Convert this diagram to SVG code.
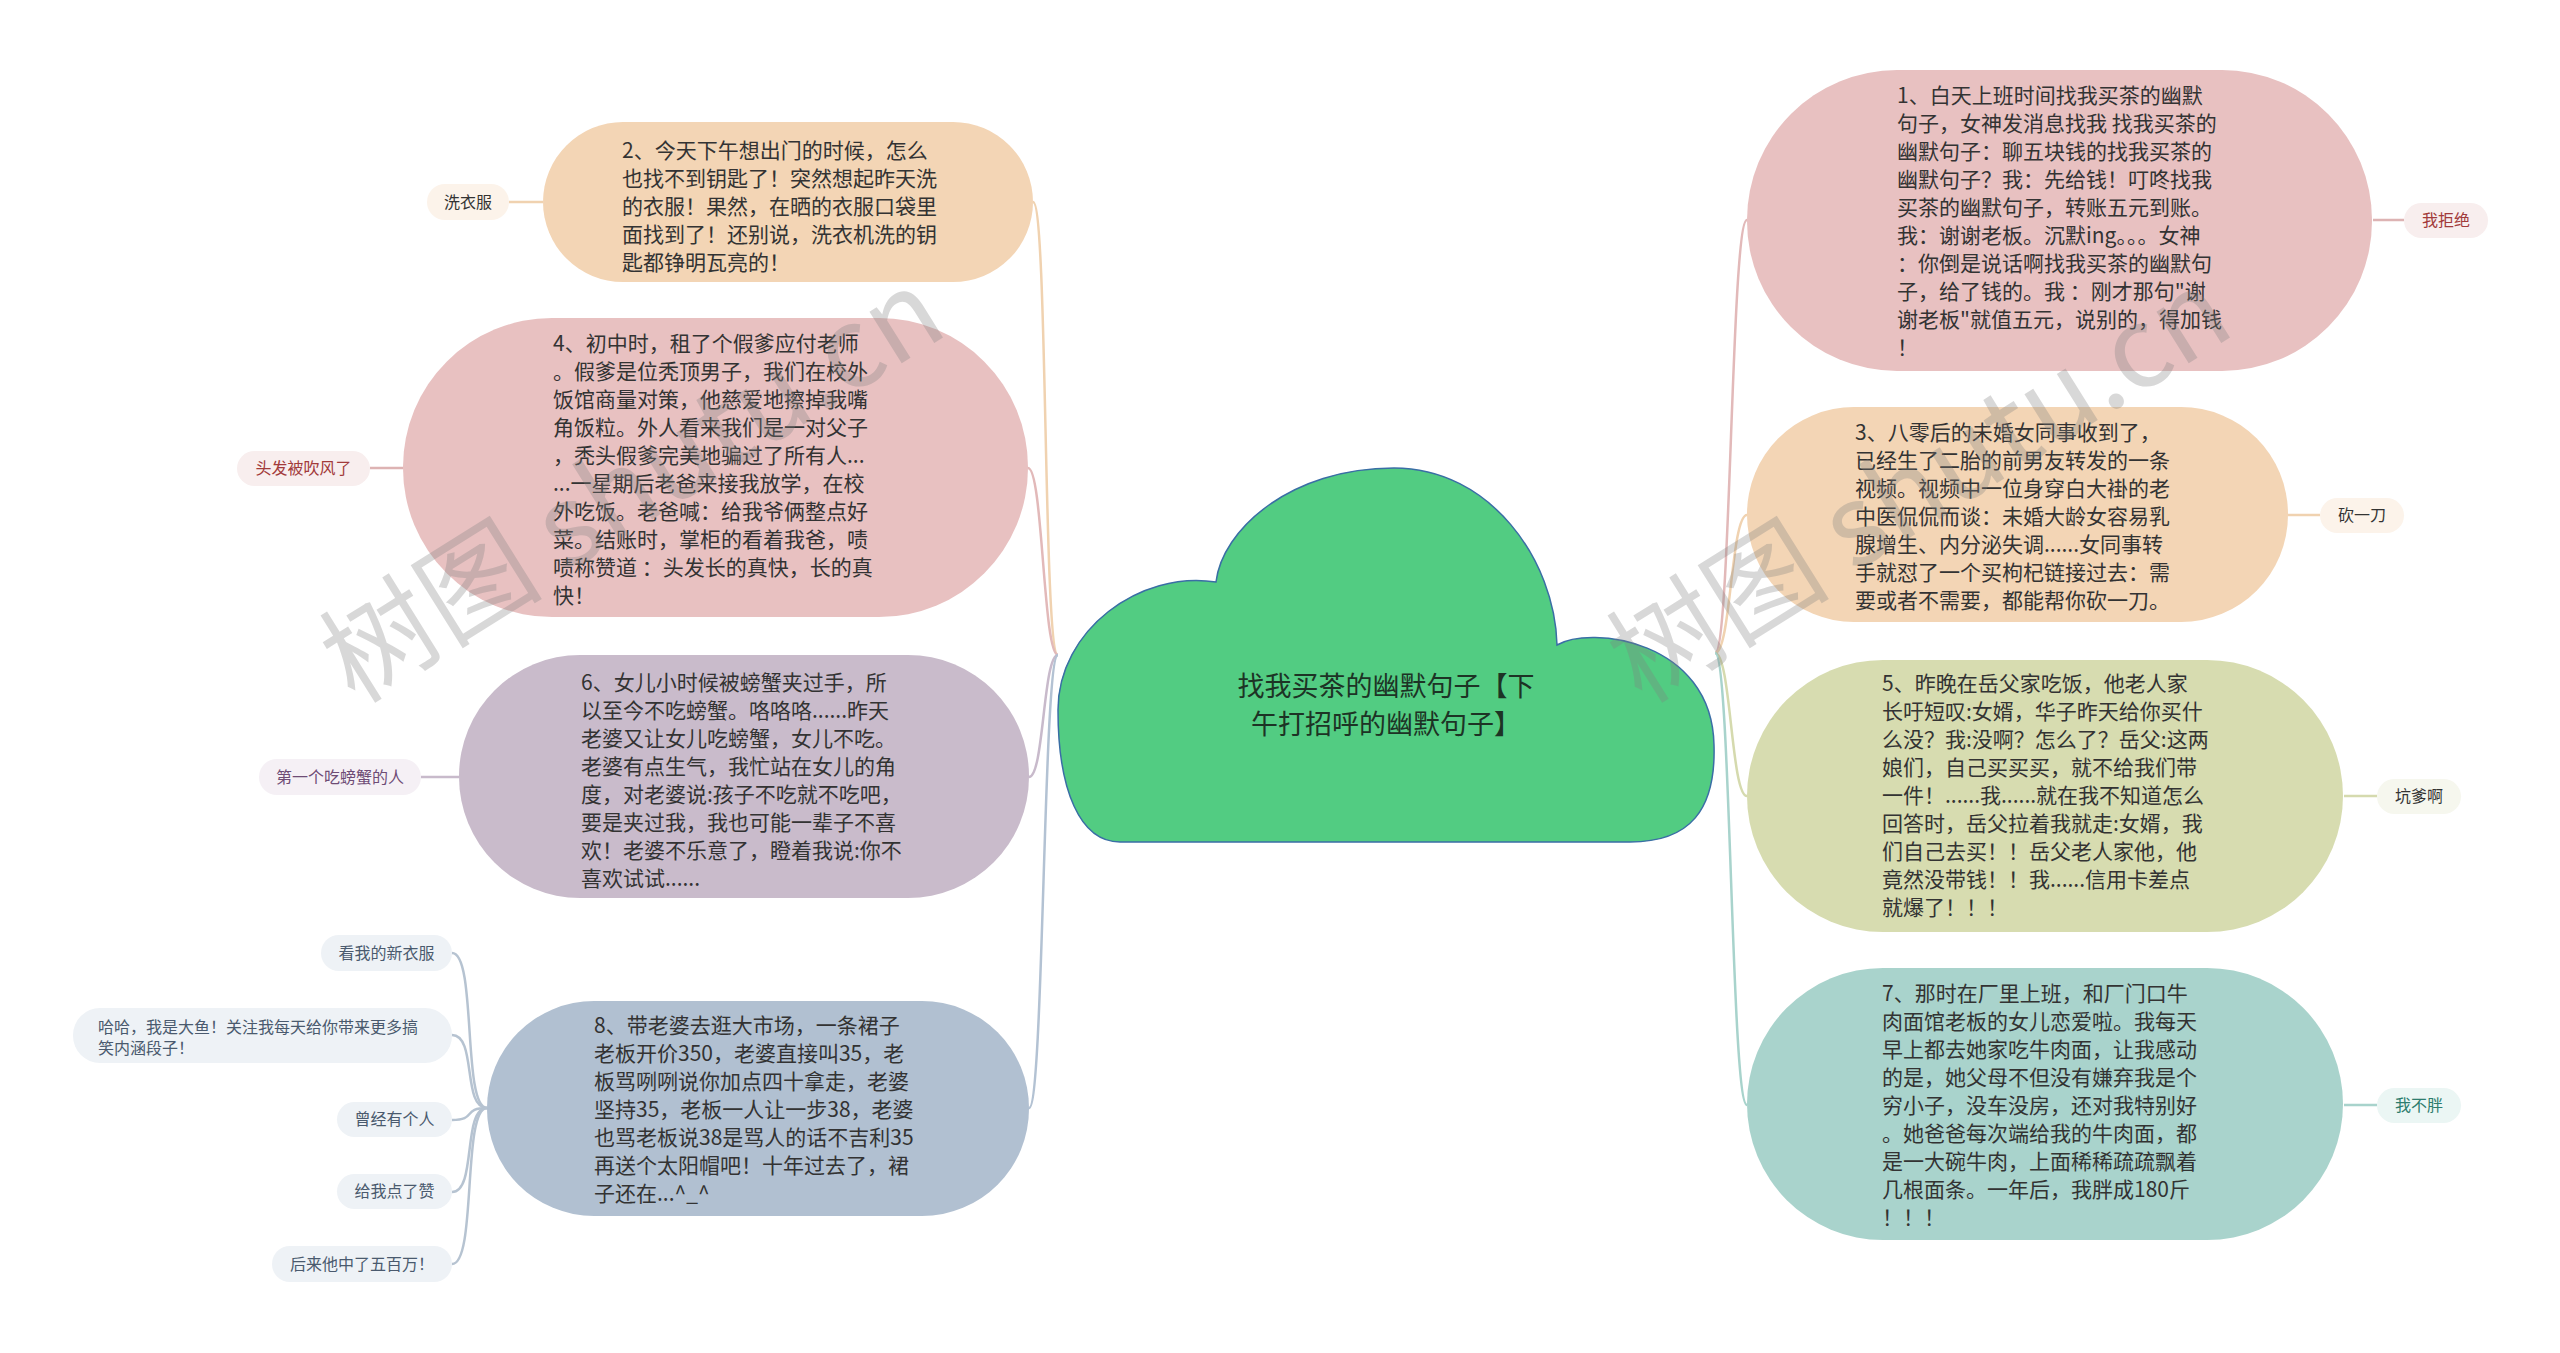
<svg xmlns="http://www.w3.org/2000/svg" width="2560" height="1353" viewBox="0 0 2560 1353">
<style>
text{font-family:"Noto Sans CJK SC","Noto Sans",sans-serif;}
.t{font-size:21px;fill:#333333;}
.lb{font-size:16px;text-anchor:middle;}
.lbs{font-size:16px;text-anchor:start;}
.c{fill:none;stroke-width:2.5;}
.wm{font-size:112px;fill:#808080;opacity:0.3;}
</style>
<rect width="2560" height="1353" fill="#ffffff"/>
<g id="connectors">
<path class="c" stroke="#F0D2B0" d="M1058,655 C1043,655 1048,202 1033,202"/>
<path class="c" stroke="#E2B9B9" d="M1058,655 C1043,655 1043,468 1028,468"/>
<path class="c" stroke="#C8BACB" d="M1058,655 C1043,655 1044,777 1029,777"/>
<path class="c" stroke="#B3C2D3" d="M1058,655 C1043,655 1044,1108 1029,1108"/>
<path class="c" stroke="#E2B9B9" d="M1715,653 C1731,653 1731,220 1747,220"/>
<path class="c" stroke="#F0D2B0" d="M1715,653 C1731,653 1731,515 1747,515"/>
<path class="c" stroke="#D5DAAE" d="M1715,653 C1731,653 1731,796 1747,796"/>
<path class="c" stroke="#A8D3CC" d="M1715,653 C1731,653 1731,1105 1747,1105"/>
<path class="c" stroke="#F0D2B0" d="M509,202 L543,202"/>
<path class="c" stroke="#DDB3B3" d="M370,468 L403,468"/>
<path class="c" stroke="#C8BACB" d="M421,777 L459,777"/>
<path class="c" stroke="#DDB3B3" d="M2373,220 L2404,220"/>
<path class="c" stroke="#F0D2B0" d="M2288,515 L2320,515"/>
<path class="c" stroke="#D5DAAE" d="M2344,796 L2377,796"/>
<path class="c" stroke="#A8D3CC" d="M2344,1105 L2377,1105"/>
<path class="c" stroke="#B6C3D1" stroke-width="2" d="M487,1108 C462,1108 477,953 452,953"/>
<path class="c" stroke="#B6C3D1" stroke-width="2" d="M487,1108 C462,1108 477,1035 452,1035"/>
<path class="c" stroke="#B6C3D1" stroke-width="2" d="M487,1108 C462,1108 477,1120 452,1120"/>
<path class="c" stroke="#B6C3D1" stroke-width="2" d="M487,1108 C462,1108 477,1192 452,1192"/>
<path class="c" stroke="#B6C3D1" stroke-width="2" d="M487,1108 C462,1108 477,1264 452,1264"/>
</g>
<g id="root">
<path d="M1216,582 C1222,530 1290,468 1394,468 C1490,468 1555,560 1557,645 C1590,625 1712,640 1714,745 C1716,810 1690,842 1630,842 L1120,842 C1080,842 1058,790 1058,710 C1058,630 1140,570 1216,582 Z" fill="#52CC82" stroke="#3A6EA5" stroke-width="1.5"/>
<text x="1386" y="696" font-size="27" fill="#1D3325" text-anchor="middle">找我买茶的幽默句子【下</text>
<text x="1386" y="734" font-size="27" fill="#1D3325" text-anchor="middle">午打招呼的幽默句子】</text>
</g>
<g id="n2">
<rect x="543" y="122" width="490" height="160" rx="80" fill="#F3D5B5"/>
<text class="t" x="622" y="158">2、今天下午想出门的时候，怎么</text>
<text class="t" x="622" y="186">也找不到钥匙了！突然想起昨天洗</text>
<text class="t" x="622" y="214">的衣服！果然，在晒的衣服口袋里</text>
<text class="t" x="622" y="242">面找到了！还别说，洗衣机洗的钥</text>
<text class="t" x="622" y="270">匙都铮明瓦亮的！</text>
</g>
<g id="n4">
<rect x="403" y="318" width="625" height="299" rx="149" fill="#E8C1C1"/>
<text class="t" x="553" y="351">4、初中时，租了个假爹应付老师</text>
<text class="t" x="553" y="379">。假爹是位秃顶男子，我们在校外</text>
<text class="t" x="553" y="407">饭馆商量对策，他慈爱地擦掉我嘴</text>
<text class="t" x="553" y="435">角饭粒。外人看来我们是一对父子</text>
<text class="t" x="553" y="463">，秃头假爹完美地骗过了所有人...</text>
<text class="t" x="553" y="491">...一星期后老爸来接我放学，在校</text>
<text class="t" x="553" y="519">外吃饭。老爸喊：给我爷俩整点好</text>
<text class="t" x="553" y="547">菜。结账时，掌柜的看着我爸，啧</text>
<text class="t" x="553" y="575">啧称赞道 ：头发长的真快，长的真</text>
<text class="t" x="553" y="603">快！</text>
</g>
<g id="n6">
<rect x="459" y="655" width="570" height="243" rx="121" fill="#C9BBCB"/>
<text class="t" x="581" y="690">6、女儿小时候被螃蟹夹过手，所</text>
<text class="t" x="581" y="718">以至今不吃螃蟹。咯咯咯......昨天</text>
<text class="t" x="581" y="746">老婆又让女儿吃螃蟹，女儿不吃。</text>
<text class="t" x="581" y="774">老婆有点生气，我忙站在女儿的角</text>
<text class="t" x="581" y="802">度，对老婆说:孩子不吃就不吃吧，</text>
<text class="t" x="581" y="830">要是夹过我，我也可能一辈子不喜</text>
<text class="t" x="581" y="858">欢！老婆不乐意了，瞪着我说:你不</text>
<text class="t" x="581" y="886">喜欢试试......</text>
</g>
<g id="n8">
<rect x="487" y="1001" width="542" height="215" rx="107" fill="#B1C0D1"/>
<text class="t" x="594" y="1033">8、带老婆去逛大市场，一条裙子</text>
<text class="t" x="594" y="1061">老板开价350，老婆直接叫35，老</text>
<text class="t" x="594" y="1089">板骂咧咧说你加点四十拿走，老婆</text>
<text class="t" x="594" y="1117">坚持35，老板一人让一步38，老婆</text>
<text class="t" x="594" y="1145">也骂老板说38是骂人的话不吉利35</text>
<text class="t" x="594" y="1173">再送个太阳帽吧！十年过去了，裙</text>
<text class="t" x="594" y="1201">子还在...^_^</text>
</g>
<g id="n1">
<rect x="1747" y="70" width="625" height="301" rx="150" fill="#E8C1C1"/>
<text class="t" x="1897" y="103">1、白天上班时间找我买茶的幽默</text>
<text class="t" x="1897" y="131">句子，女神发消息找我 找我买茶的</text>
<text class="t" x="1897" y="159">幽默句子：聊五块钱的找我买茶的</text>
<text class="t" x="1897" y="187">幽默句子？我：先给钱！叮咚找我</text>
<text class="t" x="1897" y="215">买茶的幽默句子，转账五元到账。</text>
<text class="t" x="1897" y="243">我：谢谢老板。沉默ing。。。女神</text>
<text class="t" x="1897" y="271">：你倒是说话啊找我买茶的幽默句</text>
<text class="t" x="1897" y="299">子，给了钱的。我 ：刚才那句"谢</text>
<text class="t" x="1897" y="327">谢老板"就值五元，说别的，得加钱</text>
<text class="t" x="1897" y="355">！</text>
</g>
<g id="n3">
<rect x="1747" y="407" width="541" height="215" rx="107" fill="#F3D5B5"/>
<text class="t" x="1855" y="440">3、八零后的未婚女同事收到了，</text>
<text class="t" x="1855" y="468">已经生了二胎的前男友转发的一条</text>
<text class="t" x="1855" y="496">视频。视频中一位身穿白大褂的老</text>
<text class="t" x="1855" y="524">中医侃侃而谈：未婚大龄女容易乳</text>
<text class="t" x="1855" y="552">腺增生、内分泌失调......女同事转</text>
<text class="t" x="1855" y="580">手就怼了一个买枸杞链接过去：需</text>
<text class="t" x="1855" y="608">要或者不需要，都能帮你砍一刀。</text>
</g>
<g id="n5">
<rect x="1747" y="660" width="596" height="272" rx="136" fill="#D7DCB0"/>
<text class="t" x="1882" y="691">5、昨晚在岳父家吃饭，他老人家</text>
<text class="t" x="1882" y="719">长吁短叹:女婿，华子昨天给你买什</text>
<text class="t" x="1882" y="747">么没？我:没啊？怎么了？岳父:这两</text>
<text class="t" x="1882" y="775">娘们，自己买买买，就不给我们带</text>
<text class="t" x="1882" y="803">一件！......我......就在我不知道怎么</text>
<text class="t" x="1882" y="831">回答时，岳父拉着我就走:女婿，我</text>
<text class="t" x="1882" y="859">们自己去买！！岳父老人家他，他</text>
<text class="t" x="1882" y="887">竟然没带钱！！我......信用卡差点</text>
<text class="t" x="1882" y="915">就爆了！！！</text>
</g>
<g id="n7">
<rect x="1747" y="968" width="596" height="272" rx="136" fill="#A9D3CC"/>
<text class="t" x="1882" y="1001">7、那时在厂里上班，和厂门口牛</text>
<text class="t" x="1882" y="1029">肉面馆老板的女儿恋爱啦。我每天</text>
<text class="t" x="1882" y="1057">早上都去她家吃牛肉面，让我感动</text>
<text class="t" x="1882" y="1085">的是，她父母不但没有嫌弃我是个</text>
<text class="t" x="1882" y="1113">穷小子，没车没房，还对我特别好</text>
<text class="t" x="1882" y="1141">。她爸爸每次端给我的牛肉面，都</text>
<text class="t" x="1882" y="1169">是一大碗牛肉，上面稀稀疏疏飘着</text>
<text class="t" x="1882" y="1197">几根面条。一年后，我胖成180斤</text>
<text class="t" x="1882" y="1225">！！！</text>
</g>
<g id="l-xiyifu">
<rect x="427" y="184" width="82" height="36" rx="18" fill="#FCF3EA"/>
<text class="lb" x="468" y="208" fill="#333333">洗衣服</text>
</g>
<g id="l-toufa">
<rect x="237" y="451" width="133" height="35" rx="17.5" fill="#F8EEEE"/>
<text class="lb" x="303.5" y="474" fill="#A23B3B">头发被吹风了</text>
</g>
<g id="l-pangxie">
<rect x="259" y="759" width="162" height="36" rx="18" fill="#F5F0F5"/>
<text class="lb" x="340" y="783" fill="#6E4C75">第一个吃螃蟹的人</text>
</g>
<g id="l-xinyifu">
<rect x="321" y="935" width="131" height="36" rx="18" fill="#EEF2F6"/>
<text class="lb" x="386.5" y="959" fill="#4A5A6E">看我的新衣服</text>
</g>
<g id="l-haha">
<rect x="73" y="1008" width="379" height="55" rx="27" fill="#EEF2F6"/>
<text class="lbs" x="98" y="1033" fill="#4A5A6E">哈哈，我是大鱼！关注我每天给你带来更多搞</text>
<text class="lbs" x="98" y="1054" fill="#4A5A6E">笑内涵段子！</text>
</g>
<g id="l-cengjing">
<rect x="337" y="1102" width="115" height="35" rx="17.5" fill="#EEF2F6"/>
<text class="lb" x="394.5" y="1125" fill="#4A5A6E">曾经有个人</text>
</g>
<g id="l-zan">
<rect x="337" y="1174" width="115" height="35" rx="17.5" fill="#EEF2F6"/>
<text class="lb" x="394.5" y="1197" fill="#4A5A6E">给我点了赞</text>
</g>
<g id="l-wubaiwan">
<rect x="272" y="1246" width="180" height="36" rx="18" fill="#EEF2F6"/>
<text class="lb" x="362" y="1270" fill="#4A5A6E">后来他中了五百万！</text>
</g>
<g id="l-jujue">
<rect x="2404" y="203" width="84" height="35" rx="17.5" fill="#F8EEEE"/>
<text class="lb" x="2446" y="226" fill="#A23B3B">我拒绝</text>
</g>
<g id="l-kan">
<rect x="2320" y="498" width="84" height="35" rx="17.5" fill="#FCF3EA"/>
<text class="lb" x="2362" y="521" fill="#333333">砍一刀</text>
</g>
<g id="l-keng">
<rect x="2377" y="779" width="84" height="35" rx="17.5" fill="#F6F7EE"/>
<text class="lb" x="2419" y="802" fill="#333333">坑爹啊</text>
</g>
<g id="l-pang">
<rect x="2377" y="1088" width="84" height="35" rx="17.5" fill="#EBF6F4"/>
<text class="lb" x="2419" y="1111" fill="#2E7D6E">我不胖</text>
</g>
<g id="watermarks">
<text class="wm" transform="translate(355,705) rotate(-32)">树图 shutu.cn</text>
<text class="wm" transform="translate(1642,705) rotate(-32)">树图 shutu.cn</text>
</g>
</svg>
